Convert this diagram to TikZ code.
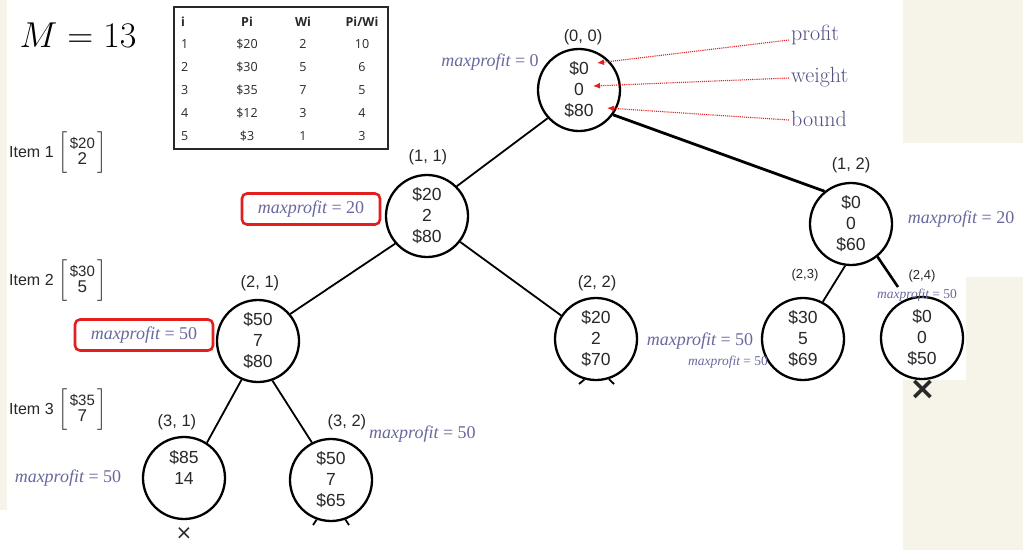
\RequirePackage{fix-cm}
\documentclass[tikz,border=0pt]{standalone}
\usepackage{amsmath}
\usepackage{fontspec}
\newfontfamily\arialf{Liberation Sans}
\newfontfamily\tablef{Open Sans}
\newfontfamily\seriff{Liberation Serif}
\newfontfamily\dejavuf{DejaVu Sans}
\usetikzlibrary{arrows.meta}

\definecolor{cream}{RGB}{246,244,233}
\definecolor{mpcol}{RGB}{105,105,158}
\definecolor{notecol}{RGB}{82,82,132}
\definecolor{redline}{RGB}{226,30,30}
\definecolor{ink}{RGB}{40,40,40}

\newcommand{\mpval}[1]{{\itshape maxprofit} = #1}

\tikzset{
  bbnode/.style={draw=black, line width=2.3pt, circle, minimum size=82pt, inner sep=0pt,
    align=center, font=\arialf\fontsize{17.5}{21}\selectfont, text=ink},
  lbl/.style={font=\arialf\fontsize{16.5}{19}\selectfont, text=ink, inner sep=1pt},
  lblsmall/.style={font=\arialf\fontsize{13}{15}\selectfont, text=ink, inner sep=1pt},
  mp/.style={font=\seriff\fontsize{18}{20}\selectfont, text=mpcol, inner sep=1pt},
  mpsmall/.style={font=\seriff\fontsize{13.5}{15}\selectfont, text=mpcol, inner sep=1pt},
  redbox/.style={draw=redline, line width=2.6pt, rounded corners=5pt,
    minimum width=138pt, minimum height=31pt},
  note/.style={font=\fontsize{22}{24}\selectfont, text=notecol, anchor=west, inner sep=2pt},
  pointer/.style={redline, densely dotted, line width=1.1pt, -{Latex[length=7pt,width=6pt]}},
  branch/.style={line width=1.8pt},
  tcell/.style={font=\tablef\fontsize{12.5}{14}\selectfont, text=ink, inner sep=1pt},
  thead/.style={tcell, font=\tablef\bfseries\fontsize{12.5}{14}\selectfont},
  itemlab/.style={font=\arialf\fontsize{16}{19}\selectfont, text=ink, anchor=west, inner sep=1pt},
  cut/.style={text=ink, inner sep=0pt},
}

\begin{document}
\begin{tikzpicture}[x=1pt,y=-1pt]
  \useasboundingbox (0,0) rectangle (1023,550);
  % pasted pieces of the slide
  \fill[white] (0,0) rectangle (1023,550);
  \fill[cream] (903,0) rectangle (1023,143);
  \fill[cream] (966,277) rectangle (1023,380);
  \fill[cream] (903,380) rectangle (1023,550);
  \fill[cream] (0,0) rectangle (7,510);

  % capacity and item table
  \node[font=\fontsize{36}{40}\selectfont] (cap) at (78,35) {$M = 13$};
  \draw[ink, line width=1.3pt] (174,7) rectangle (388,149);
  \node[thead, anchor=west] (hi) at (180,22) {i};
  \node[thead] (hp) at (247,22) {Pi};
  \node[thead] (hw) at (303,22) {Wi};
  \node[thead] (hr) at (362,22) {Pi/Wi};
  \foreach \p/\w/\r [count=\k] in {20/2/10, 30/5/6, 35/7/5, 12/3/4, 3/1/3} {
    \node[tcell, anchor=west] (ti\k) at (180,21+23*\k) {\k};
    \node[tcell] (tp\k) at (247,21+23*\k) {\$\p};
    \node[tcell] (tw\k) at (303,21+23*\k) {\w};
    \node[tcell] (tr\k) at (362,21+23*\k) {\r};
  }

  % items
  \node[itemlab] (item1) at (8,153) {Item 1 $\left[\,\begin{array}{@{}c@{}}\text{\fontsize{15}{17}\selectfont\$20}\\[-3pt]\text{\fontsize{17}{19}\selectfont 2}\end{array}\,\right]$};
  \node[itemlab] (item2) at (8,281) {Item 2 $\left[\,\begin{array}{@{}c@{}}\text{\fontsize{15}{17}\selectfont\$30}\\[-3pt]\text{\fontsize{17}{19}\selectfont 5}\end{array}\,\right]$};
  \node[itemlab] (item3) at (8,410) {Item 3 $\left[\,\begin{array}{@{}c@{}}\text{\fontsize{15}{17}\selectfont\$35}\\[-3pt]\text{\fontsize{17}{19}\selectfont 7}\end{array}\,\right]$};

  % tree nodes: profit, weight, bound
  \node[bbnode] (n00) at (579,90) {\$0\\0\\\$80};
  \node[bbnode] (n11) at (427,216) {\$20\\2\\\$80};
  \node[bbnode] (n12) at (851,224) {\$0\\0\\\$60};
  \node[bbnode] (n21) at (258,341) {\$50\\7\\\$80};
  \node[bbnode] (n22) at (596,339) {\$20\\2\\\$70};
  \node[bbnode] (n23) at (803,339) {\$30\\5\\\$69};
  \node[bbnode] (n24) at (922,338) {\$0\\0\\\$50};
  \node[bbnode] (n31) at (184,478) {\$85\\14\\~};
  \node[bbnode] (n32) at (331,480) {\$50\\7\\\$65};

  \node[lbl] (l00) at (583,37) {(0, 0)};
  \node[lbl] (l11) at (428,157) {(1, 1)};
  \node[lbl] (l12) at (851,165) {(1, 2)};
  \node[lbl] (l21) at (260,283) {(2, 1)};
  \node[lbl] (l22) at (597,283) {(2, 2)};
  \node[lblsmall] (l23) at (805,275) {(2,3)};
  \node[lblsmall] (l24) at (922,276) {(2,4)};
  \node[lbl] (l31) at (177,422) {(3, 1)};
  \node[lbl] (l32) at (347,422) {(3, 2)};

  % branches
  \coordinate (c24) at (898,287);
  \coordinate (s22a) at (579,384);
  \coordinate (s22b) at (614,384);
  \coordinate (s32a) at (313,525);
  \coordinate (s32b) at (349,525);
  \draw[branch] (n00.222) -- (n11.45);
  \draw[branch, line width=2.8pt] (n00.-36) -- (n12.129);
  \draw[branch] (n11.221) -- (n21.40);
  \draw[branch] (n11.-38) -- (n22.146);
  \draw[branch] (n21.247) -- (n31.57);
  \draw[branch] (n21.-70) -- (n32.117);
  \draw[branch] (n12.262) -- (n23.62);
  \draw[branch, line width=2.6pt] (n12.-51) -- (c24);
  \draw[branch] (n22.-106) -- (s22a);
  \draw[branch] (n22.-72) -- (s22b);
  \draw[branch] (n32.-110) -- (s32a);
  \draw[branch] (n32.-70) -- (s32b);

  % maxprofit notes
  \node[mp] (mp00) at (490,62) {\mpval{0}};
  \node[mp, redbox] (mp11) at (311,209) {\mpval{20}};
  \node[mp, redbox] (mp21) at (144,335) {\mpval{50}};
  \node[mp] (mp12) at (961,219) {\mpval{20}};
  \node[mp] (mp23) at (700,341) {\mpval{50}};
  \node[mpsmall] (mp23b) at (728,362) {\mpval{50}};
  \node[mpsmall] (mp24) at (917,295) {\mpval{50}};
  \node[mp, anchor=west] (mp32) at (368,434) {\mpval{50}};
  \node[mp] (mp31) at (68,478) {\mpval{50}};

  % pruned
  \node[cut, font=\dejavuf\fontsize{20}{22}\selectfont] (x31) at (184,534) {×};
  \node[cut, font=\dejavuf\bfseries\fontsize{32}{34}\selectfont] (x24) at (923,390) {×};

  % legend
  \node[note] (nprofit) at (789,35) {profit};
  \node[note] (nweight) at (789,77) {weight};
  \node[note] (nbound) at (789,119) {bound};
  \coordinate (tprofit) at (597,63);
  \coordinate (tweight) at (593,86);
  \coordinate (tbound) at (607,108);
  \draw[pointer] ([yshift=-5pt]nprofit.west) -- (tprofit);
  \draw[pointer] ([yshift=-1pt]nweight.west) -- (tweight);
  \draw[pointer] ([yshift=-1pt]nbound.west) -- (tbound);
\end{tikzpicture}
\end{document}
